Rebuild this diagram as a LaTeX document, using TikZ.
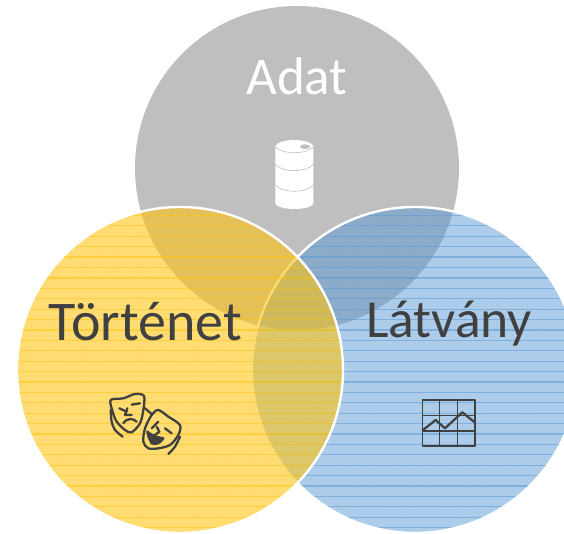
\documentclass[tikz,border=0pt]{standalone}
\usepackage{fontspec}
\usetikzlibrary{patterns.meta}
\setmainfont{Carlito}
\definecolor{adatgray}{HTML}{BFBFBF}
\definecolor{storyyellow}{HTML}{FFC410}
\definecolor{visualblue}{HTML}{5B9BD5}
\definecolor{icondark}{HTML}{404040}

\tikzset{
  rim/.style    = {draw=white, line width=2.4pt},
  title/.style  = {font=\fontsize{53}{53}\selectfont, text=icondark, inner sep=0pt},
  hatch/.style  = {line width=1.2pt, draw opacity=0.55},
  dither/.style = {pattern={Dots[distance=2.2pt, radius=0.55pt, angle=45]}, fill opacity=0.1},
  icon/.style   = {draw=icondark, line width=2.3pt, line cap=round, line join=round},
  barrel/.style = {draw=adatgray, line width=0.6pt}
}

\begin{document}
\begin{tikzpicture}[x=1pt, y=-1pt]
\useasboundingbox (0,0) rectangle (564,534);
\clip (0,0) rectangle (564,534);

% the three circles, grey one below
\fill[adatgray] (297,168) circle [radius=162pt];

\fill[visualblue, fill opacity=0.5] (415,370) circle [radius=163pt];
\begin{scope}
  \clip (415,370) circle [radius=163pt];
  \fill[dither, pattern color=visualblue] (415,370) circle [radius=163pt];
  \foreach \k in {-18,...,13}
    \draw[hatch, visualblue] (240,392.3+10.4*\k) -- (580,392.3+10.4*\k);
\end{scope}
\draw[rim] (415,370) circle [radius=163pt];

\fill[storyyellow, fill opacity=0.58] (180,370) circle [radius=163pt];
\begin{scope}
  \clip (180,370) circle [radius=163pt];
  \fill[dither, pattern color=storyyellow] (180,370) circle [radius=163pt];
  \foreach \k in {-18,...,13}
    \draw[hatch, storyyellow] (10,392.3+10.4*\k) -- (350,392.3+10.4*\k);
\end{scope}
\draw[rim] (180,370) circle [radius=163pt];

% titles
\node[title, text=white] (adat) at (297,76) {Adat};
\node[title, font=\fontsize{56}{56}\selectfont] (tortenet) at (145.5,322) {Történet};
\node[title, font=\fontsize{53.5}{53.5}\selectfont] (latvany) at (449,324) {Látvány};

% barrel
\begin{scope}[shift={(260,130)}, x=0.3333pt, y=-0.3333pt]
  \fill[white] (46,48) -- (46,222) .. controls (60,242) and (146,242) .. (160,222) -- (160,48)
    .. controls (146,24) and (60,24) .. (46,48) -- cycle;
  \draw[barrel] (46,50) .. controls (65,74) and (141,74) .. (160,50);
  \draw[barrel] (46,103) .. controls (65,128) and (141,128) .. (160,103);
  \draw[barrel] (46,165) .. controls (65,190) and (141,190) .. (160,165);
  \fill[adatgray] (135,50) ellipse [x radius=15, y radius=7];
\end{scope}

% masks
\begin{scope}[shift={(90,380)}, x=0.3333pt, y=-0.3333pt]
  \draw[icon] plot[smooth cycle] coordinates {(62,60) (100,55) (135,42) (162,48) (160,90) (150,130) (125,157) (105,150) (80,125) (68,95)};
  \draw[icon] plot[smooth] coordinates {(62,90) (65,125) (75,150) (98,170)};
  \draw[icon] (88,85) -- (110,95);
  \draw[icon] (125,74) -- (150,70);
  \draw[icon] (112,85) -- (105,105) -- (125,105);
  \draw[icon] (100,130) .. controls (112,112) and (130,115) .. (140,125);
  \draw[icon] (165,85) -- (185,102);
  \draw[icon] plot[smooth cycle] coordinates {(205,90) (235,110) (270,135) (265,165) (240,195) (205,205) (175,205) (160,185) (165,145) (185,105)};
  \draw[icon] plot[smooth] coordinates {(270,170) (255,200) (235,222)};
  \draw[icon] (185,145) -- (205,125);
  \draw[icon] (225,145) -- (245,160);
  \draw[icon] (200,140) -- (208,155) -- (195,165);
  \filldraw[icon, fill=icondark] (172,155) .. controls (190,170) and (205,172) .. (220,175) .. controls (212,190) and (195,195) .. (185,190) .. controls (178,180) and (175,170) .. (172,155) -- cycle;
\end{scope}

% chart
\draw[icon, line width=1.2pt, line cap=butt] (422.3,400) rectangle (475,446);
\foreach \gx in {439.3,457.3}
  \draw[icon, line width=1.1pt, line cap=butt] (\gx,400) -- (\gx,446);
\foreach \gy in {415.6,431}
  \draw[icon, line width=1.1pt, line cap=butt] (422.3,\gy) -- (475,\gy);
\draw[icon, line width=2.2pt, line cap=butt] (422.3,430.6) -- (435.6,420) -- (445,428.3) -- (462.3,412.3) -- (475,422.6);
\end{tikzpicture}
\end{document}
